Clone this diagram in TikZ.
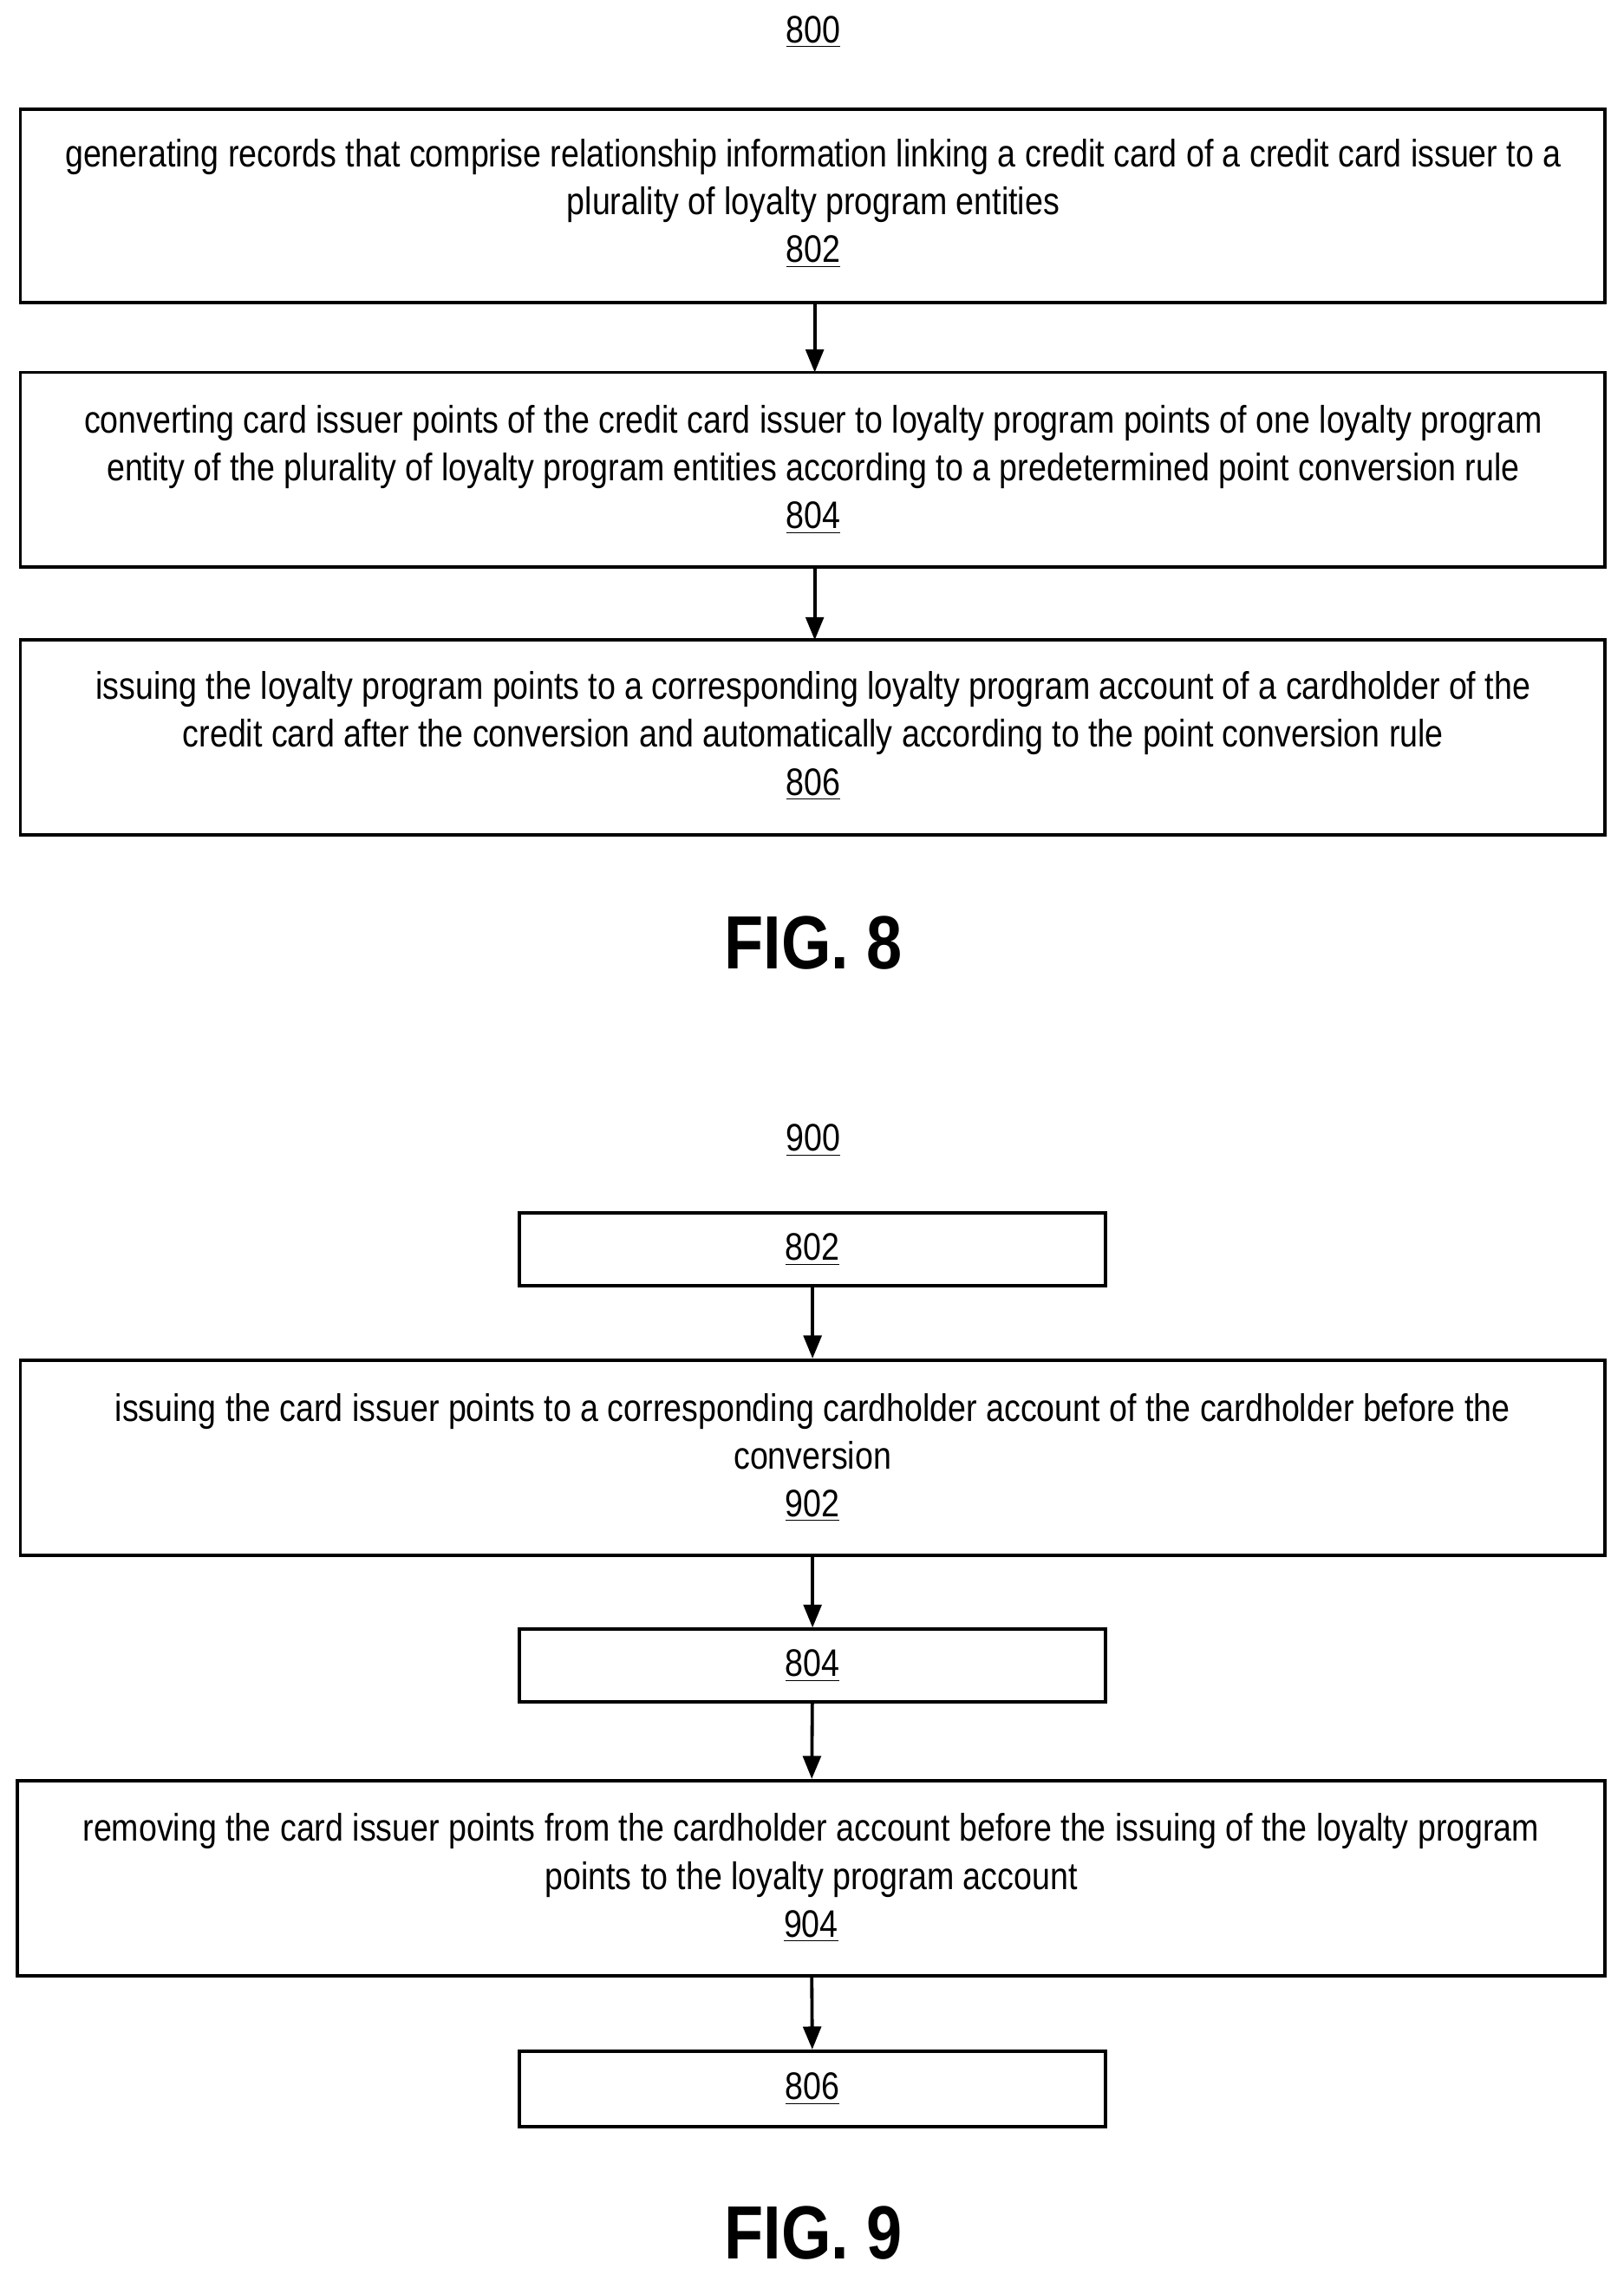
\documentclass[tikz,border=0pt]{standalone}
\usepackage{fontspec}
\setmainfont{Liberation Sans}[FakeStretch=0.85]
\usetikzlibrary{arrows.meta}
\begin{document}
\begin{tikzpicture}[x=0.02cm,y=-0.02cm,
  box/.style={draw,line width=1.3pt},
  txt/.style={font=\fontsize{15}{18.7}\selectfont,align=center,inner sep=0},
  arr/.style={-{Triangle[length=9pt,width=7pt]},line width=1.3pt},
  fig/.style={font=\fontsize{29.5}{35}\bfseries\selectfont,inner sep=0}]
\useasboundingbox (0,0) rectangle (1116,1568);
\node[txt] (l800) at (559,22) {\underline{800}};
\draw[box] (14,75) rectangle (1103,208); \coordinate (b802t) at (560,75); \coordinate (b802b) at (560,208);
\node[txt] (t802) at (559,140) {generating records that comprise relationship information linking a credit card of a credit card issuer to a\\plurality of loyalty program entities\\\underline{802}};
\draw[box] (14,256) rectangle (1103,390); \coordinate (b804t) at (560,256); \coordinate (b804b) at (560,390);
\node[txt] (t804) at (559,323) {converting card issuer points of the credit card issuer to loyalty program points of one loyalty program\\entity of the plurality of loyalty program entities according to a predetermined point conversion rule\\\underline{804}};
\draw[box] (14,440) rectangle (1103,574); \coordinate (b806t) at (560,440);
\node[txt] (t806) at (559,506) {issuing the loyalty program points to a corresponding loyalty program account of a cardholder of the\\credit card after the conversion and automatically according to the point conversion rule\\\underline{806}};
\draw[arr] (b802b) -- (b804t);
\draw[arr] (b804b) -- (b806t);
\node[fig] (f8) at (559,648) {FIG. 8};
\node[txt] (l900) at (559,784) {\underline{900}};
\node[box,minimum width=403*0.02cm,minimum height=50*0.02cm,txt] (s802) at (558.5,859) {\underline{802}};
\node[box,minimum width=1089*0.02cm,minimum height=134*0.02cm,txt] (b902) at (558.5,1002) {issuing the card issuer points to a corresponding cardholder account of the cardholder before the\\conversion\\\underline{902}};
\node[box,minimum width=403*0.02cm,minimum height=50*0.02cm,txt] (s804) at (558.5,1145) {\underline{804}};
\node[box,minimum width=1091*0.02cm,minimum height=134*0.02cm,txt] (b904) at (557.5,1291) {removing the card issuer points from the cardholder account before the issuing of the loyalty program\\points to the loyalty program account\\\underline{904}};
\node[box,minimum width=403*0.02cm,minimum height=52*0.02cm,txt] (s806) at (558.5,1436) {\underline{806}};
\draw[arr] (s802) -- (b902);
\draw[arr] (b902) -- (s804);
\draw[arr] (s804) -- (b904);
\draw[arr] (b904) -- (s806);
\node[fig] (f9) at (559,1535) {FIG. 9};
\end{tikzpicture}
\end{document}
